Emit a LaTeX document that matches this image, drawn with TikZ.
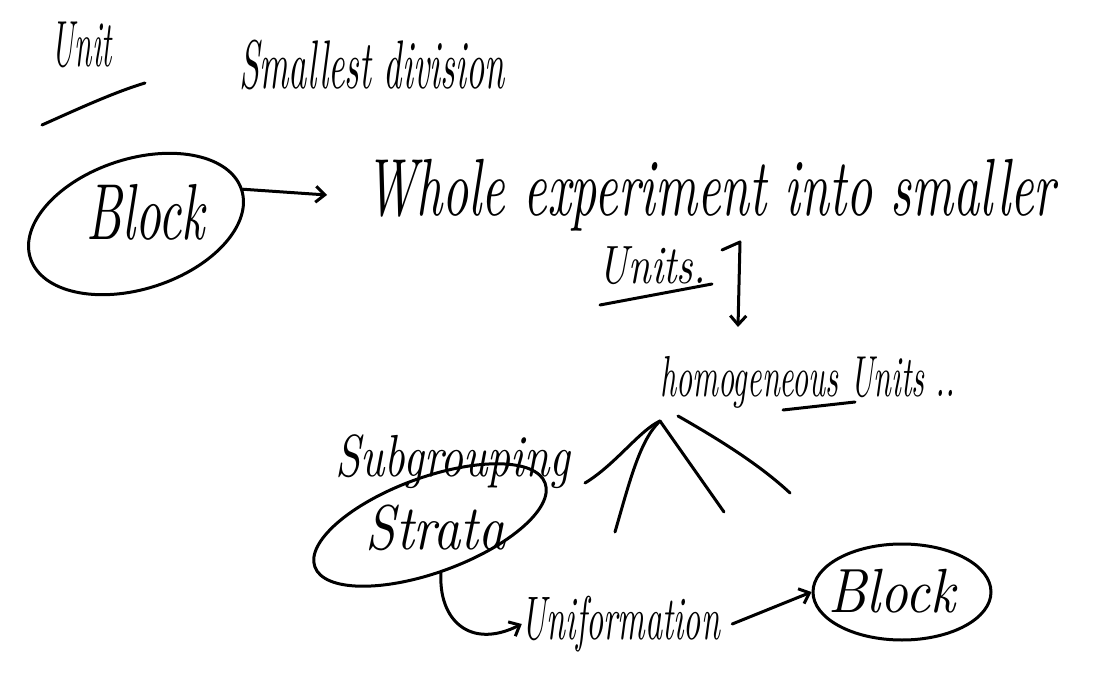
\documentclass[tikz,border=0pt]{standalone}
\usetikzlibrary{shapes.geometric,arrows.meta}
\newcommand{\fitw}[3]{\resizebox*{#1}{#2}{#3}}
\begin{document}
\begin{tikzpicture}[x=1pt,y=-1pt,
  ink/.style={line width=3pt,line cap=round,line join=round,black},
  txt/.style={inner sep=0pt,font=\itshape},
  oval/.style={ink,draw,ellipse,inner sep=0pt},
  arr/.style={ink,-{Straight Barb[length=9pt,width=16pt,line width=3pt]}}]
\useasboundingbox[fill=white] (0,0) rectangle (1103,679);
% top
\node[txt] (unit) at (82,45) {\fitw{60pt}{46pt}{Unit}};
\draw[ink] (42,125) .. controls (80,108) and (115,92) .. (145,83);
\node[txt] (smallest) at (372,65) {\fitw{265pt}{50pt}{Smallest division}};
% block 1
\node[oval,minimum width=222pt,minimum height=130pt,rotate=18] (block1) at (136,224) {};
\node[txt] (blocktxt) at (146,212) {\fitw{118pt}{56pt}{Block}};
\node[txt,anchor=west] (whole) at (365,195) {\fitw{690pt}{72pt}{Whole experiment into smaller}};
\draw[arr] (block1.east) -- ([xshift=-38pt]whole.west);
\node[txt] (units) at (652,266) {\fitw{107pt}{38pt}{Units.}};
\draw[ink] (600,305) -- (712,284);
\node[txt,anchor=west] (homog) at (660,382) {\fitw{295pt}{52pt}{homogeneous Units ..}};
\draw[ink] (783,410) -- (855,402);
\coordinate (hook) at (722,250);
\coordinate (hookend) at (738,327);
\draw[arr] (hook) -- ++(18,-8) -- (hookend);
% peak lines
\coordinate (apex) at (660,421);
\draw[ink] (585,483) .. controls (615,465) and (640,430) .. (apex);
\draw[ink] (apex) .. controls (640,440) and (630,480) .. (615,532);
\draw[ink] (apex) -- (724,512);
\draw[ink] (678,416) .. controls (720,440) and (760,465) .. (790,493);
% strata
\node[txt] (subgroup) at (453,462) {\fitw{235pt}{54pt}{Subgrouping}};
\node[oval,minimum width=245pt,minimum height=95pt,rotate=20] (strata) at (430,525) {};
\node[txt] (stratatxt) at (436,528) {\fitw{140pt}{46pt}{Strata}};
\node[txt] (uniform) at (621,624) {\fitw{198pt}{56pt}{Uniformation}};
\draw[arr] (441,572) .. controls (438,620) and (470,650) .. (uniform.west);
% block 2
\node[oval,minimum width=178pt,minimum height=96pt] (block2) at (902,592) {};
\node[txt] (block2txt) at (892,591) {\fitw{127pt}{44pt}{Block}};
\draw[arr] ([xshift=12pt]uniform.east) -- (block2.west);
\end{tikzpicture}
\end{document}
